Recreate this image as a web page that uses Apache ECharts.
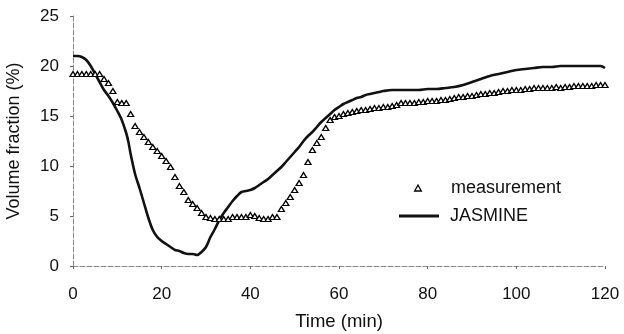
<!DOCTYPE html>
<html>
<head>
<meta charset="utf-8">
<script src="https://cdn.jsdelivr.net/npm/echarts@6/dist/echarts.min.js"></script>
<style>
html,body{margin:0;padding:0;background:#fff;}
#chart{width:624px;height:334px;}
</style>
</head>
<body>
<div id="chart"></div>
<script>
// Measurement: one value per minute, t = 0..120
const measTime = [];
for (let t = 0; t <= 120; t++) measTime.push(t);
const measValues = [
  19.2,19.2,19.2,19.2,19.2,19.2,19.2,18.7,18.3,17.5,
  16.4,16.3,16.3,15.2,14.0,13.4,12.9,12.4,11.9,11.5,
  11.0,10.5,9.9,8.9,8.0,7.4,6.6,6.2,5.8,5.3,
  4.9,4.8,4.7,4.7,4.7,4.7,4.9,4.9,4.9,4.9,
  5.1,5.0,4.8,4.7,4.7,4.9,4.9,5.7,6.3,6.9,
  7.6,8.3,9.1,10.4,11.6,12.3,12.9,13.8,14.6,14.9,
  15.0,15.2,15.3,15.4,15.5,15.6,15.6,15.7,15.8,15.8,
  15.9,15.9,16.0,16.1,16.3,16.3,16.3,16.3,16.4,16.4,
  16.5,16.5,16.5,16.6,16.6,16.7,16.8,16.9,16.9,17.0,
  17.0,17.1,17.2,17.2,17.3,17.3,17.4,17.5,17.5,17.6,
  17.6,17.6,17.7,17.7,17.8,17.8,17.8,17.8,17.8,17.9,
  17.8,17.9,17.9,18.0,18.0,18.0,18.0,18.0,18.1,18.1,
  18.1
];
// JASMINE simulation curve
const jasTime = [0,1,2,3,4,5,6,7,8,9,10,11,12,12.5,13,14,15,16,17,18,19,20,21,22,23,24,25,26,27,28,29,30,31,32,33,34,35,36,37,38,39,40,41,42,43,44,45,46,47,48,49,50,51,52,53,54,55,56,57,58,59,60,61,62,63,64,65,66,67,68,69,70,72,75,78,80,82,84,86,88,90,92,94,96,98,100,102,104,106,108,110,112,114,116,118,119,120];
const jasValues = [21.0,21.0,20.9,20.6,20.0,19.2,18.4,17.6,17.0,16.3,15.5,14.6,13.3,12.4,11.2,9.2,7.8,6.3,4.8,3.6,2.9,2.5,2.2,1.9,1.6,1.5,1.3,1.2,1.2,1.1,1.4,1.9,2.9,3.7,4.6,5.3,5.9,6.5,7.0,7.4,7.5,7.6,7.8,8.1,8.4,8.7,9.1,9.5,9.9,10.4,10.9,11.4,11.9,12.5,13.0,13.4,13.9,14.4,14.8,15.2,15.6,15.9,16.2,16.4,16.6,16.8,16.9,17.1,17.2,17.3,17.4,17.5,17.6,17.6,17.6,17.7,17.7,17.8,17.9,18.1,18.4,18.7,19.0,19.2,19.4,19.6,19.7,19.8,19.9,19.9,20.0,20.0,20.0,20.0,20.0,20.0,19.8];
const xTicks = [0,20,40,60,80,100,120];
const yTicks = [0,5,10,15,20,25];

const FONT = 'Liberation Sans';
const chart = echarts.init(document.getElementById('chart'), null, {renderer:'canvas'});
const axisLineStyle = {color:'#8a8a8a', width:1, type:[5,2]};
chart.setOption({
  animation:false,
  backgroundColor:'#fff',
  grid:{left:73, right:19, top:16, bottom:68, containLabel:false, outerBoundsMode:'none'},
  xAxis:{
    type:'value', min:xTicks[0], max:xTicks[xTicks.length-1], interval:20,
    name:'Time (min)', nameLocation:'middle', nameGap:46,
    nameTextStyle:{fontFamily:FONT, fontSize:18.5, color:'#111'},
    axisLine:{show:true, onZero:false, lineStyle:axisLineStyle},
    axisTick:{show:true, inside:false, length:3, lineStyle:{color:'#666'}},
    axisLabel:{fontFamily:FONT, fontSize:17, color:'#111', margin:20},
    splitLine:{show:false}
  },
  yAxis:{
    type:'value', min:yTicks[0], max:yTicks[yTicks.length-1], interval:5,
    name:'Volume fraction (%)', nameLocation:'middle', nameGap:50,
    nameTextStyle:{fontFamily:FONT, fontSize:18, color:'#111'},
    axisLine:{show:true, lineStyle:axisLineStyle},
    axisTick:{show:true, inside:false, length:3, lineStyle:{color:'#666'}},
    axisLabel:{fontFamily:FONT, fontSize:17, color:'#111', margin:14},
    splitLine:{show:false}
  },
  legend:[
    {
      data:['measurement'], left:409, top:174, orient:'vertical',
      itemWidth:40, itemHeight:6, symbolKeepAspect:true,
      icon:'path://M5,0 L10,9 L0,9 Z',
      itemStyle:{color:'#fff', borderColor:'#000', borderWidth:1.3},
      textStyle:{fontFamily:FONT, fontSize:18, color:'#111', padding:[0,0,0,8]}
    },
    {
      data:['JASMINE'], left:394, top:202, orient:'vertical',
      itemWidth:40, itemHeight:3, icon:'rect',
      itemStyle:{color:'#111', borderWidth:0},
      textStyle:{fontFamily:FONT, fontSize:18, color:'#111', padding:[0,0,0,6]}
    }
  ],
  series:[
    {
      name:'JASMINE', type:'line', showSymbol:false, symbol:'none',
      data:jasTime.map((t,i)=>[t, jasValues[i]]),
      lineStyle:{color:'#111', width:2.6}, itemStyle:{color:'#111'},
      smooth:0.3, z:2
    },
    {
      name:'measurement', type:'scatter', symbol:'triangle', symbolSize:[6,5],
      data:measTime.map((t,i)=>[t, measValues[i]]),
      itemStyle:{color:'#fff', borderColor:'#000', borderWidth:1.3, opacity:1},
      z:3
    }
  ]
});
</script>
</body>
</html>
